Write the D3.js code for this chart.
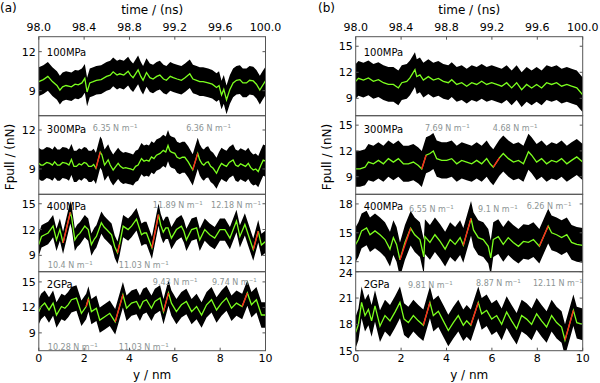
<!DOCTYPE html>
<html>
<head>
<meta charset="utf-8">
<script src="https://cdn.jsdelivr.net/npm/d3@7"></script>
<style>
  body { margin: 0; background: #fff; }
  svg { display: block; font-family: "DejaVu Sans", sans-serif; }
</style>
</head>
<body>
<div id="chart"></div>
<script>
// top axis (time) and bottom axis (distance) ticks
const timeTicks = ["98.0", "98.4", "98.8", "99.2", "99.6", "100.0"];
const distTicks = [0, 2, 4, 6, 8, 10];
const panelNames = ["100MPa", "300MPa", "400MPa", "2GPa"];

// smoothed Fpull (green line), [y nm, F nN]
const a100 = [[0,9.7],[0.2,9.85],[0.4,10.1],[0.6,9.7],[0.8,9.4],[0.93,9.05],[1.05,9.3],[1.2,9.4],[1.44,9.3],[1.6,9.5],[1.74,9.45],[1.9,9.6],[2.03,9.95],[2.13,8.9],[2.25,9.6],[2.4,9.7],[2.54,9.8],[2.75,9.85],[2.99,10.1],[3.15,10.2],[3.28,10.45],[3.45,10.2],[3.57,10.3],[3.75,10.2],[3.94,10.5],[4.05,10.2],[4.16,10.0],[4.38,10.6],[4.5,10.1],[4.6,9.8],[4.75,10.4],[4.9,10.0],[5.04,9.9],[5.2,10.1],[5.34,10.2],[5.5,9.9],[5.63,9.8],[5.8,10.1],[5.93,10.0],[6.1,9.9],[6.29,9.8],[6.45,10.0],[6.66,10.3],[6.8,9.9],[6.96,9.8],[7.1,9.7],[7.25,9.7],[7.47,9.6],[7.65,9.5],[7.84,9.25],[7.95,9.4],[8.06,8.67],[8.16,9.1],[8.28,8.3],[8.43,9.1],[8.57,9.6],[8.72,9.8],[8.87,9.85],[9.0,9.6],[9.16,9.6],[9.3,9.8],[9.46,9.75],[9.6,9.5],[9.75,9.05],[9.87,9.4],[10,9.75]];
const a300 = [[0,9.43],[0.1,9.3],[0.19,9.3],[0.35,9.5],[0.49,9.43],[0.6,9.3],[0.7,9.55],[0.82,9.3],[0.93,9.3],[1.05,9.5],[1.22,9.43],[1.33,9.3],[1.44,9.73],[1.55,9.2],[1.66,9.2],[1.78,9.4],[1.88,9.3],[2.0,9.5],[2.1,9.43],[2.2,9.2],[2.32,9.2],[2.42,9.35],[2.52,9.05],[2.71,10.3],[2.78,10.1],[2.9,9.3],[3.06,9.7],[3.15,9.3],[3.28,8.92],[3.4,9.2],[3.5,9.43],[3.6,9.2],[3.72,9.05],[3.83,9.1],[3.94,9.05],[4.05,9.0],[4.16,8.92],[4.27,9.2],[4.38,9.3],[4.53,9.8],[4.64,9.6],[4.75,9.68],[4.86,9.6],[4.97,9.93],[5.08,9.8],[5.19,10.06],[5.35,10.2],[5.49,10.43],[5.6,10.3],[5.7,10.8],[5.78,10.4],[5.85,10.3],[6.0,10.2],[6.1,9.9],[6.22,9.8],[6.33,9.9],[6.44,9.9],[6.59,9.55],[6.79,8.93],[7.01,10.2],[7.1,9.7],[7.2,9.4],[7.28,9.3],[7.38,9.5],[7.47,9.55],[7.58,9.2],[7.69,9.05],[7.84,8.67],[7.95,9.1],[8.06,9.43],[8.17,9.3],[8.28,9.2],[8.4,9.5],[8.57,9.7],[8.68,9.3],[8.79,9.2],[8.9,9.4],[9.01,9.3],[9.12,9.2],[9.24,9.43],[9.35,9.1],[9.46,8.92],[9.57,9.0],[9.68,8.8],[9.8,9.3],[9.9,9.68],[10,9.6]];
const a400 = [[0,10.25],[0.12,11.2],[0.26,11.4],[0.41,11.6],[0.55,12.1],[0.63,12.4],[0.78,10.8],[0.93,12.0],[1.07,10.45],[1.39,14.0],[1.45,13.4],[1.59,10.8],[1.7,11.3],[1.81,11.55],[2.03,12.4],[2.1,12.2],[2.18,12.0],[2.32,10.25],[2.45,10.9],[2.54,11.2],[2.76,12.8],[2.88,12.3],[2.99,12.0],[3.21,11.4],[3.35,10.0],[3.47,9.3],[3.56,10.26],[3.72,12.4],[3.83,12.2],[3.94,12.0],[4.09,12.4],[4.31,13.2],[4.42,12.3],[4.53,11.4],[4.65,11.6],[4.75,11.6],[4.99,9.87],[5.28,13.74],[5.38,12.5],[5.49,11.7],[5.6,12.2],[5.7,12.2],[5.85,11.0],[6.07,12.0],[6.29,12.4],[6.4,11.8],[6.51,10.8],[6.74,12.0],[6.96,12.2],[7.1,10.8],[7.32,12.0],[7.54,11.4],[7.76,11.0],[7.99,12.0],[8.21,12.0],[8.43,11.0],[8.72,13.0],[8.87,11.2],[9.09,12.6],[9.24,11.4],[9.46,9.67],[9.68,11.8],[9.82,10.2],[10,10.6]];
const a2g = [[0,11.5],[0.1,12.1],[0.26,12.5],[0.45,11.7],[0.63,12.5],[0.78,11.1],[1.0,12.1],[1.15,11.9],[1.29,12.3],[1.44,12.9],[1.66,13.1],[1.88,11.3],[2.09,12.1],[2.19,13.0],[2.32,11.5],[2.54,11.9],[2.69,10.5],[2.91,10.9],[3.13,11.3],[3.37,10.3],[3.71,13.5],[3.87,11.9],[4.09,12.5],[4.31,12.7],[4.46,11.9],[4.6,12.7],[4.75,12.9],[4.97,11.9],[5.12,12.7],[5.35,13.1],[5.5,11.5],[5.72,13.7],[5.85,12.5],[6.07,11.5],[6.29,12.3],[6.51,12.7],[6.74,11.5],[6.96,12.1],[7.18,11.1],[7.4,12.3],[7.62,12.9],[7.84,11.7],[8.06,12.5],[8.28,13.1],[8.5,11.9],[8.72,12.5],[8.97,12.1],[9.2,13.7],[9.38,12.3],[9.6,12.9],[9.82,11.1],[10,11.1]];
const b100 = [[0,10.96],[0.12,11.3],[0.34,11.1],[0.56,11.35],[0.78,10.96],[1.0,11.15],[1.22,10.8],[1.44,10.6],[1.66,10.6],[1.88,10.2],[2.03,10.8],[2.25,10.96],[2.39,11.35],[2.61,12.3],[2.69,11.5],[2.83,11.7],[2.98,11.1],[3.2,11.5],[3.42,11.1],[3.64,11.3],[3.86,10.96],[4.08,10.8],[4.23,11.15],[4.45,10.6],[4.67,10.8],[4.89,10.4],[5.11,10.8],[5.33,10.6],[5.55,10.96],[5.77,10.6],[5.99,10.8],[6.21,10.6],[6.43,10.4],[6.65,10.8],[6.87,10.2],[7.09,10.8],[7.31,10.0],[7.53,10.6],[7.75,10.2],[7.97,10.6],[8.19,10.2],[8.41,10.8],[8.63,10.6],[8.85,10.8],[9.07,10.4],[9.3,10.6],[9.51,10.4],[9.74,10.2],[10,9.4]];
const b300 = [[0,9.92],[0.19,9.92],[0.41,10.1],[0.56,10.7],[0.78,10.5],[1.0,10.9],[1.22,10.5],[1.44,11.1],[1.66,10.7],[1.88,11.1],[2.1,10.5],[2.32,10.5],[2.54,10.7],[2.76,10.3],[2.91,9.9],[3.1,11.5],[3.27,11.7],[3.42,12.0],[3.57,11.1],[3.79,10.9],[4.01,10.9],[4.23,11.1],[4.45,10.5],[4.67,10.9],[4.89,10.7],[5.11,10.5],[5.33,10.9],[5.55,10.5],[5.77,11.1],[5.92,10.5],[6.06,10.1],[6.33,11.2],[6.5,11.7],[6.73,11.1],[6.95,10.7],[7.17,10.9],[7.39,10.5],[7.61,11.9],[7.75,11.5],[7.97,10.7],[8.19,11.1],[8.41,10.5],[8.63,10.9],[8.85,10.7],[9.07,11.1],[9.3,10.5],[9.51,10.9],[9.74,11.3],[10,10.7]];
const b400 = [[0,13.8],[0.12,14.3],[0.26,15.2],[0.48,15.5],[0.63,14.8],[0.85,15.2],[1.07,14.8],[1.29,14.3],[1.51,13.3],[1.66,14.5],[1.8,13.8],[1.95,12.2],[2.17,14.0],[2.42,15.47],[2.6,14.8],[2.83,14.3],[3.0,12.5],[3.05,14.6],[3.27,14.0],[3.49,14.8],[3.72,14.1],[3.94,13.3],[4.16,14.3],[4.38,13.8],[4.6,14.5],[4.74,13.7],[5.08,16.5],[5.19,15.3],[5.4,14.5],[5.62,14.3],[5.84,13.6],[5.95,12.4],[6.06,14.3],[6.28,14.6],[6.5,13.8],[6.72,14.5],[6.94,14.0],[7.17,13.6],[7.39,14.1],[7.61,14.0],[7.83,14.3],[8.09,13.6],[8.48,15.7],[8.63,15.0],[8.85,14.8],[9.07,14.5],[9.3,14.8],[9.51,14.0],[9.74,13.8],[10,13.7]];
const b2g = [[0,17.1],[0.12,18.0],[0.26,20.5],[0.41,19.0],[0.56,19.7],[0.7,18.4],[0.85,20.1],[1.07,17.8],[1.29,19.0],[1.51,18.4],[1.73,19.4],[1.95,20.5],[2.13,18.6],[2.32,18.2],[2.54,19.0],[2.76,18.4],[2.98,17.9],[3.27,20.5],[3.42,19.0],[3.64,19.5],[3.86,18.4],[4.08,17.3],[4.3,18.2],[4.52,19.0],[4.74,17.9],[4.89,18.4],[5.07,17.9],[5.4,20.5],[5.55,19.2],[5.77,19.6],[5.99,18.6],[6.21,19.0],[6.43,18.0],[6.65,19.4],[6.87,18.4],[7.09,17.5],[7.31,19.0],[7.53,18.6],[7.75,18.0],[7.97,19.2],[8.19,18.4],[8.41,17.7],[8.63,19.0],[8.85,18.2],[9.07,17.7],[9.22,16.2],[9.59,19.6],[9.74,18.2],[10,18.0]];

// half width of the raw (black) signal around the smoothed line, nN
const spreadA = [1.1, 1.2, 1.3, 1.5];
const spreadB = [2.0, 2.1, 1.8, 1.8];

// linear fits (red), [[y0,F0],[y1,F1]]
const fitA = [
  [],
  [[[2.52,9.05],[2.71,10.3]], [[6.79,8.93],[7.01,10.2]]],
  [[[1.07,10.45],[1.39,14.0]], [[3.47,9.3],[3.56,10.26]], [[4.99,9.87],[5.28,13.74]], [[9.46,9.67],[9.68,11.8]]],
  [[[2.09,12.1],[2.19,13.0]], [[3.37,10.3],[3.71,13.5]], [[5.5,11.5],[5.72,13.7]], [[8.97,12.1],[9.2,13.7]]]
];
const fitB = [
  [],
  [[[2.91,9.9],[3.1,11.5]], [[6.06,10.1],[6.33,11.2]]],
  [[[1.95,12.2],[2.42,15.47]], [[4.74,13.7],[5.08,16.5]], [[8.09,13.6],[8.48,15.7]]],
  [[[2.98,17.9],[3.27,20.5]], [[5.07,17.9],[5.4,20.5]], [[9.22,16.2],[9.59,19.6]]]
];

// fitted stiffness labels
const kA = [[], ["6.35", "6.36"], ["11.89", "12.18", "10.4", "11.03"], ["9.43", "9.74", "10.28", "11.03"]];
const kB = [[], ["7.69", "4.68"], ["6.55", "9.1", "6.26"], ["9.81", "8.87", "12.11"]];

// y ticks per panel
const ticksA = [[9, 12], [9, 12], [9, 12, 15], [9, 12, 15]];
const ticksB = [[9, 12, 15], [9, 12, 15], [12, 15, 18], [15, 18, 21, 24]];

const W = 600, H = 383;
const svg = d3.select("#chart").append("svg").attr("width", W).attr("height", H);

const panelTop = [36.7, 115.7, 194.3, 271.7, 350.7];

const figs = [
  { tag: "(a)", tagX: 0, x0: 38.8, x1: 265.5, series: [a100, a300, a400, a2g], spread: spreadA, fits: fitA, ks: kA, ticks: ticksA,
    domains: [[7.08, 13.15], [7.05, 13.1], [7.1, 16.1], [6.9, 16.2]],
    kPos: [[], [[2.38, 12.15], [6.5, 12.15]], [[5.03, 14.8], [7.6, 14.8], [0.4, 7.93], [3.53, 7.93]], [[5.03, 15.0], [7.64, 15.0], [0.4, 7.3], [3.53, 7.3]]] },
  { tag: "(b)", tagX: 318, x0: 355.7, x1: 582.7, series: [b100, b300, b400, b2g], spread: spreadB, fits: fitB, ks: kB, ticks: ticksB,
    domains: [[7, 16.1], [6.95, 16.1], [10.96, 19.0], [15, 24]],
    kPos: [[], [[3.05, 14.67], [6.04, 14.67]], [[2.35, 17.5], [5.39, 17.5], [7.53, 17.8]], [[2.3, 22.5], [5.3, 22.7], [7.81, 22.75]]] }
];

const frameColor = "#555";
const labelY = [15, 13, 12, 12];

figs.forEach((f, fi) => {
  const x = d3.scaleLinear().domain([0, 10]).range([f.x0, f.x1]);
  const xt = d3.scaleLinear().domain([98, 100]).range([f.x0, f.x1]);
  const g = svg.append("g");

  // panel tag and top axis title
  g.append("text").attr("x", f.tagX).attr("y", 12).attr("font-size", 12).text(f.tag);
  g.append("text").attr("x", (f.x0 + f.x1) / 2).attr("y", 14).attr("text-anchor", "middle")
    .attr("font-size", 12).text("time / (ns)");
  g.selectAll(".tt").data(timeTicks).enter().append("text")
    .attr("x", d => xt(+d)).attr("y", 31).attr("text-anchor", "middle")
    .attr("font-size", 11).text(d => d);

  f.series.forEach((data, pi) => {
    const top = panelTop[pi], bot = panelTop[pi + 1];
    const y = d3.scaleLinear().domain(f.domains[pi]).range([bot, top]);
    const clipId = `clip${fi}${pi}`;
    svg.append("clipPath").attr("id", clipId).append("rect")
      .attr("x", f.x0).attr("y", top).attr("width", f.x1 - f.x0).attr("height", bot - top);
    const pg = g.append("g").attr("clip-path", `url(#${clipId})`);
    const hw = f.spread[pi];

    // raw signal band
    pg.append("path").datum(data)
      .attr("fill", "#000")
      .attr("d", d3.area().x(d => x(d[0])).y0(d => y(d[1] - hw)).y1(d => y(d[1] + hw)));
    // smoothed line
    pg.append("path").datum(data)
      .attr("fill", "none").attr("stroke", "#7cff1e").attr("stroke-width", 1.3)
      .attr("d", d3.line().x(d => x(d[0])).y(d => y(d[1])));
    // linear fits
    pg.selectAll(".fit").data(f.fits[pi]).enter().append("line")
      .attr("x1", d => x(d[0][0])).attr("y1", d => y(d[0][1]))
      .attr("x2", d => x(d[1][0])).attr("y2", d => y(d[1][1]))
      .attr("stroke", "#ff2020").attr("stroke-width", 1.4);

    // stiffness annotations
    f.ks[pi].forEach((k, i) => {
      const p = f.kPos[pi][i];
      const t = g.append("text").attr("x", x(p[0])).attr("y", y(p[1]) + 3)
        .attr("font-size", 8).attr("fill", "#8c9494");
      t.append("tspan").text(`${k} N m`);
      t.append("tspan").attr("font-size", 5.5).attr("dy", -3).text("\u22121");
    });

    // panel label
    g.append("text").attr("x", f.x0 + 8).attr("y", top + labelY[pi] + 4)
      .attr("font-size", 10).text(panelNames[pi]);

    // frame
    g.append("rect").attr("x", f.x0).attr("y", top).attr("width", f.x1 - f.x0).attr("height", bot - top)
      .attr("fill", "none").attr("stroke", frameColor).attr("stroke-width", 1);

    // y ticks (inside, both sides) and labels
    f.ticks[pi].forEach(v => {
      const yy = y(v);
      g.append("line").attr("x1", f.x0).attr("x2", f.x0 + 3).attr("y1", yy).attr("y2", yy).attr("stroke", frameColor);
      g.append("line").attr("x1", f.x1).attr("x2", f.x1 - 3).attr("y1", yy).attr("y2", yy).attr("stroke", frameColor);
      // labels sitting on a panel edge are nudged inward so neighbours do not collide
      const nudge = Math.abs(yy - top) < 1 ? 1.5 : (Math.abs(yy - bot) < 12 && pi < 3 ? -1.5 : 0);
      g.append("text").attr("x", f.x0 - 3).attr("y", yy + 4 + nudge).attr("text-anchor", "end")
        .attr("font-size", 11).text(v);
    });
  });

  // top and bottom x ticks
  timeTicks.forEach(d => {
    g.append("line").attr("x1", xt(+d)).attr("x2", xt(+d)).attr("y1", panelTop[0]).attr("y2", panelTop[0] + 3).attr("stroke", frameColor);
  });
  distTicks.forEach(d => {
    g.append("line").attr("x1", x(d)).attr("x2", x(d)).attr("y1", panelTop[4]).attr("y2", panelTop[4] - 3).attr("stroke", frameColor);
    g.append("text").attr("x", x(d)).attr("y", 362).attr("text-anchor", "middle")
      .attr("font-size", 11).text(d);
  });
  g.append("text").attr("x", (f.x0 + f.x1) / 2).attr("y", 379).attr("text-anchor", "middle")
    .attr("font-size", 12).text("y / nm");

  // y axis title
  const ly = fi === 0 ? 10 : 327;
  g.append("text").attr("transform", `translate(${ly + 4},157) rotate(-90)`)
    .attr("text-anchor", "middle").attr("font-size", 12).text("Fpull / (nN)");
});
</script>
</body>
</html>
